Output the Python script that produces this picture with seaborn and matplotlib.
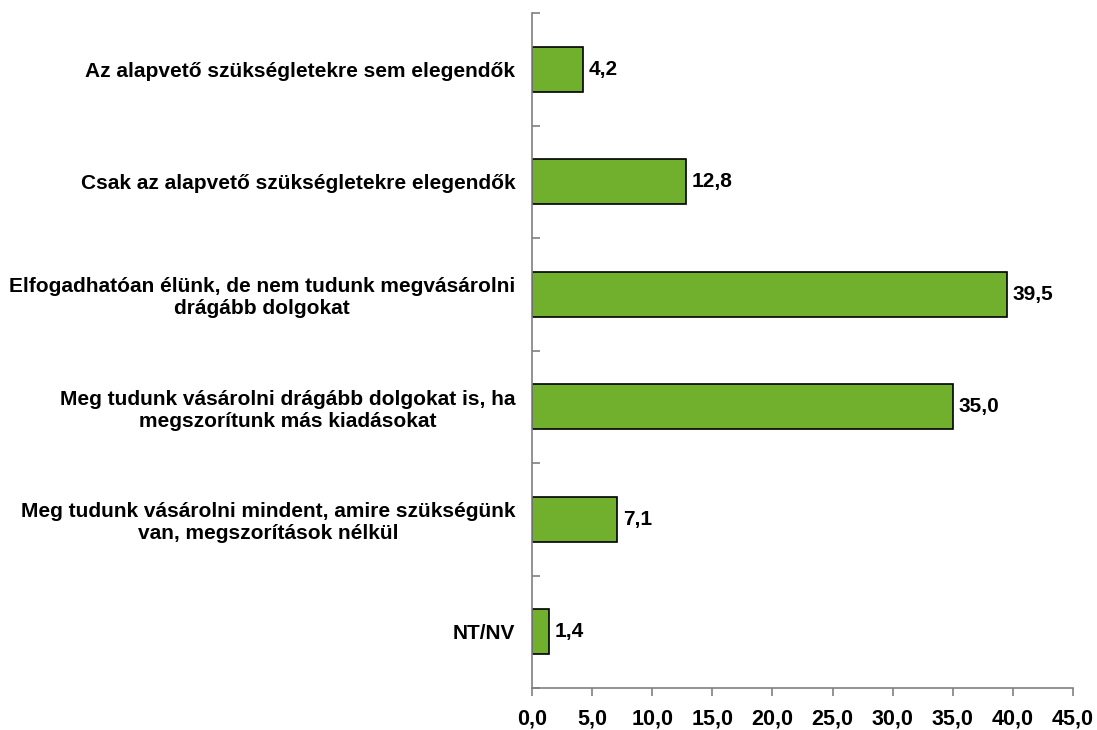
import matplotlib
matplotlib.use("Agg")
import matplotlib.pyplot as plt
import numpy as np
import pandas as pd
import seaborn as sb

categories = [
    "Az alapvető szükségletekre sem elegendők",
    "Csak az alapvető szükségletekre elegendők",
    "Elfogadhatóan élünk, de nem tudunk megvásárolni\ndrágább dolgokat",
    "Meg tudunk vásárolni drágább dolgokat is, ha\nmegszorítunk más kiadásokat",
    "Meg tudunk vásárolni mindent, amire szükségünk\nvan, megszorítások nélkül",
    "NT/NV",
]
values = [4.2, 12.8, 39.5, 35.0, 7.1, 1.4]
xticks = [0, 5, 10, 15, 20, 25, 30, 35, 40, 45]

sb.set_style("white")
plt.rcParams['font.family'] = ['Liberation Sans', 'DejaVu Sans']
plt.rcParams['font.weight'] = 'bold'
plt.rcParams['text.color'] = 'black'
plt.rcParams['xtick.color'] = 'black'
plt.rcParams['ytick.color'] = 'black'
plt.rcParams['xtick.bottom'] = True
plt.rcParams['ytick.left'] = True

df = pd.DataFrame({'cat': categories, 'val': values})

fig = plt.figure(figsize=(10.97, 7.30), dpi=100)
ax = fig.add_axes([0.485, 0.0575, 0.493, 0.9245])
sb.barplot(data=df, y='cat', x='val', color='#70B02C', edgecolor='black',
           linewidth=1.2, width=0.4, saturation=1, ax=ax)

for i, v in enumerate(values):
    ax.text(v + 0.5, i, f"{v:.1f}".replace('.', ','), va='center', ha='left',
            fontsize=15, fontweight='bold', color='black')

ax.set_xlim(0, 45)
ax.set_ylim(len(categories) - 0.5, -0.5)
ax.set_xticks(xticks)
ax.set_xticklabels([f"{t:.1f}".replace('.', ',') for t in xticks], fontsize=15.5, fontweight='bold')
ax.set_yticks(range(len(categories)))
ax.set_yticklabels(categories, fontsize=15, fontweight='bold')
for lbl in ax.get_yticklabels():
    lbl.set_multialignment('center')
ax.tick_params(axis='y', which='major', length=0, pad=12)
ax.set_yticks(np.arange(-0.5, len(categories)), minor=True)
ax.tick_params(axis='y', which='minor', left=True, direction='in', length=6,
               color='#808080', width=1.2)
ax.tick_params(axis='x', bottom=True, direction='out', length=6, color='#808080',
               width=1.2, pad=8.5, labelcolor='black')
ax.set_xlabel('')
ax.set_ylabel('')

sb.despine(ax=ax)
for s in ['left', 'bottom']:
    ax.spines[s].set_color('#808080')
    ax.spines[s].set_linewidth(1.2)

plt.savefig('out.png', dpi=100)
